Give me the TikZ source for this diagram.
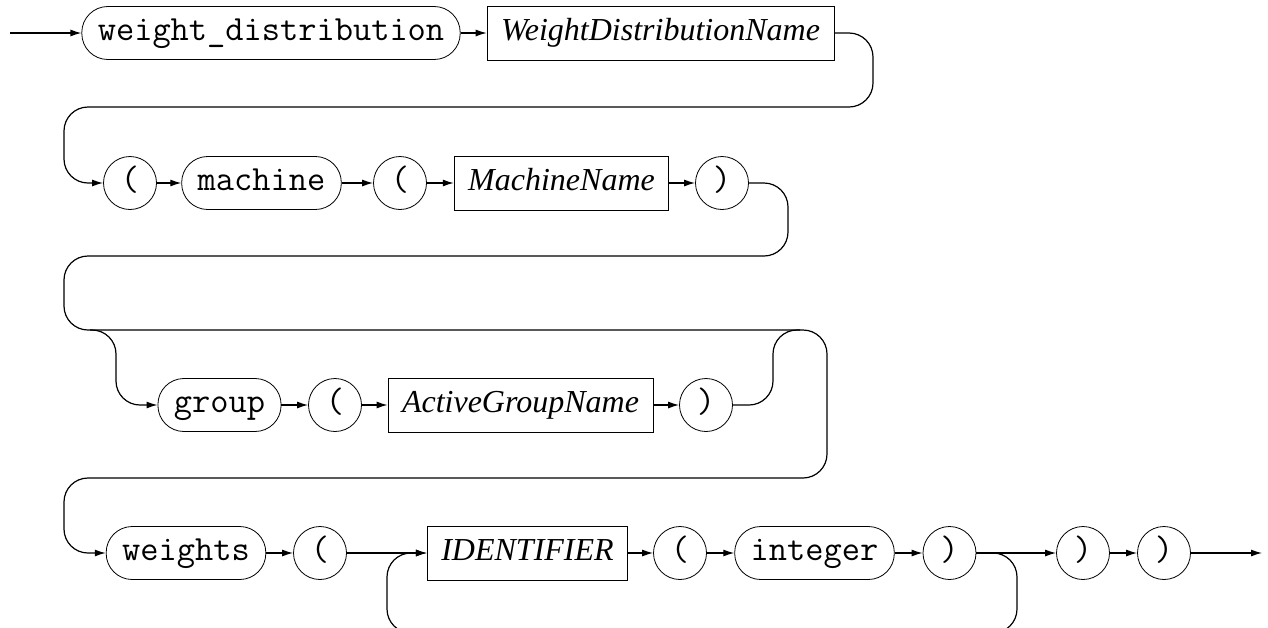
\documentclass[tikz,border=0pt]{standalone}
\usepackage{fontspec}
\setmainfont{Liberation Serif}
\usetikzlibrary{positioning}
\usetikzlibrary{arrows.meta}

\newcommand\railsize{\fontsize{16pt}{19pt}\selectfont}
\newcommand\railmono{\fontsize{17.7pt}{20pt}\selectfont\ttfamily}

\tikzset{
  terminal/.style={draw,rounded corners=13pt,minimum height=26.5pt,inner xsep=8pt,inner ysep=0pt,text height=10.5pt,text depth=3pt,font=\railmono},
  punct/.style={draw,circle,minimum size=26.5pt,inner sep=0pt,text height=10.5pt,text depth=3pt,font=\railmono},
  nonterm/.style={draw,rectangle,minimum height=27pt,inner xsep=7pt,inner ysep=0pt,text height=10.5pt,text depth=3pt,font=\railsize\itshape},
  rail/.style={line width=0.6pt,rounded corners=12pt},
  flow/.style={rail,-{Latex[length=5.5pt,width=3.5pt]}}
}

\begin{document}
\begin{tikzpicture}[x=0.5pt,y=-0.5pt]
    %frame
    \useasboundingbox (0,0) rectangle (1268,627);
    % entry and exit
    \coordinate (in) at (10,33);
    \coordinate (out) at (1262,553);
    % first line
    \node[terminal] (wd) at (271,33) {weight\_distribution};
    \node[nonterm] (wdname) at (660.5,33) {WeightDistributionName};
    % machine line
    \node[punct] (open1) at (130,183) {(};
    \node[terminal] (machine) at (261.5,183) {machine};
    \node[punct] (open2) at (400,183) {(};
    \node[nonterm] (mname) at (561.5,183) {MachineName};
    \node[punct] (close1) at (722,183) {)};
    % optional group
    \node[terminal] (group) at (219.5,405) {group};
    \node[punct] (open3) at (335,405) {(};
    \node[nonterm] (agname) at (520.5,405) {ActiveGroupName};
    \node[punct] (close2) at (706,405) {)};
    % weights line
    \node[terminal] (weights) at (186,553) {weights};
    \node[punct] (open4) at (320,553) {(};
    \node[nonterm] (ident) at (527.5,553) {IDENTIFIER};
    \node[punct] (open5) at (680,553) {(};
    \node[terminal] (int) at (814.5,553) {integer};
    \node[punct] (close3) at (949.5,553) {)};
    \node[punct] (close4) at (1083,553) {)};
    \node[punct] (close5) at (1164,553) {)};

    % rails
    \draw[flow] (in) -- (wd);
    \draw[flow] (wd) -- (wdname);
    \draw[flow] (wdname.east) -- (873,33) -- (873,107) -- (64,107) -- (64,183) -- (open1);
    \draw[flow] (open1) -- (machine);
    \draw[flow] (machine) -- (open2);
    \draw[flow] (open2) -- (mname);
    \draw[flow] (mname) -- (close1);
    \draw[flow] (close1.east) -- (788,183) -- (788,256) -- (64,256) -- (64,330) -- (827,330) -- (827,478) -- (64,478) -- (64,553) -- (weights);
    % group branch
    \draw[flow] (90,330) -- (116,330) -- (116,405) -- (group);
    \draw[flow] (group) -- (open3);
    \draw[flow] (open3) -- (agname);
    \draw[flow] (agname) -- (close2);
    \draw[rail] (close2.east) -- (773,405) -- (773,330) -- (800,330);
    % weights
    \draw[flow] (weights) -- (open4);
    \draw[flow] (open4) -- (ident);
    \draw[flow] (ident) -- (open5);
    \draw[flow] (open5) -- (int);
    \draw[flow] (int) -- (close3);
    \draw[flow] (close3) -- (close4);
    \draw[flow] (close4) -- (close5);
    \draw[flow] (close5) -- (out);
    % repeat loop
    \draw[flow] (close3.east) -- (1017,553) -- (1017,633) -- (387,633) -- (387,553) -- (ident.west);
\end{tikzpicture}
\end{document}
